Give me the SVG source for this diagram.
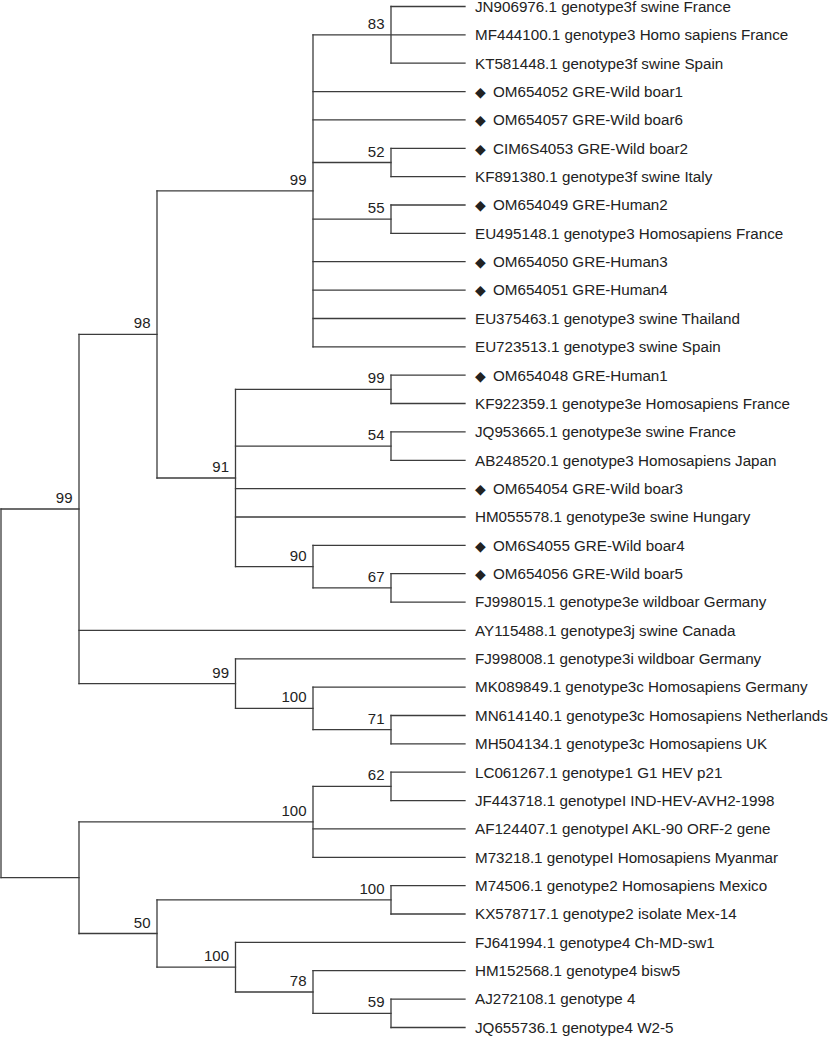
<svg xmlns="http://www.w3.org/2000/svg" width="830" height="1037" viewBox="0 0 830 1037">
<style>
.e{fill:none;stroke:#3c3c3c;stroke-width:1.3;stroke-linecap:square}
.lf{font-family:"Liberation Sans",Arial,sans-serif;font-size:15.2px;fill:#222}
.bs{font-family:"Liberation Sans",Arial,sans-serif;font-size:15px;fill:#222;text-anchor:end}
.dm{font-family:"DejaVu Sans",sans-serif;font-size:14px}
</style>
<rect width="830" height="1037" fill="#fff"/>
<g id="connectors" class="e">
<path d="M391 6.5V63.2M391 148.3V176.7M391 205V233.4M313 34.9V346.8M391 375.2V403.5M391 431.9V460.3M391 573.7V602.1M313 545.3V587.9M235.5 389.4V566.6M157 190.9V478M391 715.5V743.9M313 687.1V729.7M235.5 658.8V708.4M79 334.4V683.6M391 772.2V800.6M313 786.4V857.3M391 885.7V914M391 999.1V1027.5M313 970.7V1013.3M235.5 942.4V992M157 899.8V967.2M79 821.9V933.5M1 509V877.7"/>
<path d="M391 6.5H465M391 34.9H465M391 63.2H465M313 34.9H391M313 91.6H465M313 119.9H465M313 162.5H391M391 148.3H465M391 176.7H465M313 219.2H391M391 205H465M391 233.4H465M313 261.7H465M313 290.1H465M313 318.5H465M313 346.8H465M157 190.9H313"/>
<path d="M235.5 389.4H391M391 375.2H465M391 403.5H465M235.5 446.1H391M391 431.9H465M391 460.3H465M235.5 488.6H465M235.5 517H465M235.5 566.6H313M313 545.3H465M313 587.9H391M391 573.7H465M391 602.1H465M157 478H235.5M79 334.4H157"/>
<path d="M79 630.4H465M79 683.6H235.5M235.5 658.8H465M235.5 708.4H313M313 687.1H465M313 729.7H391M391 715.5H465M391 743.9H465M1 509H79"/>
<path d="M79 821.9H313M313 786.4H391M391 772.2H465M391 800.6H465M313 828.9H465M313 857.3H465M1 877.7H79M79 933.5H157M157 899.8H391M391 885.7H465M391 914H465M157 967.2H235.5M235.5 942.4H465M235.5 992H313M313 970.7H465M313 1013.3H391M391 999.1H465M391 1027.5H465"/>
</g>
<g id="leaves" class="lf">
<g id="leaf1"><text x="475" y="11.8">JN906976.1 genotype3f swine France</text></g>
<g id="leaf2"><text x="475" y="40.2">MF444100.1 genotype3 Homo sapiens France</text></g>
<g id="leaf3"><text x="475" y="68.5">KT581448.1 genotype3f swine Spain</text></g>
<g id="leaf4"><text x="475" y="96.9"><tspan class="dm">◆ </tspan><tspan x="493">OM654052 GRE-Wild boar1</tspan></text></g>
<g id="leaf5"><text x="475" y="125.2"><tspan class="dm">◆ </tspan><tspan x="493">OM654057 GRE-Wild boar6</tspan></text></g>
<g id="leaf6"><text x="475" y="153.6"><tspan class="dm">◆ </tspan><tspan x="493">CIM6S4053 GRE-Wild boar2</tspan></text></g>
<g id="leaf7"><text x="475" y="182">KF891380.1 genotype3f swine Italy</text></g>
<g id="leaf8"><text x="475" y="210.3"><tspan class="dm">◆ </tspan><tspan x="493">OM654049 GRE-Human2</tspan></text></g>
<g id="leaf9"><text x="475" y="238.7">EU495148.1 genotype3 Homosapiens France</text></g>
<g id="leaf10"><text x="475" y="267"><tspan class="dm">◆ </tspan><tspan x="493">OM654050 GRE-Human3</tspan></text></g>
<g id="leaf11"><text x="475" y="295.4"><tspan class="dm">◆ </tspan><tspan x="493">OM654051 GRE-Human4</tspan></text></g>
<g id="leaf12"><text x="475" y="323.8">EU375463.1 genotype3 swine Thailand</text></g>
<g id="leaf13"><text x="475" y="352.1">EU723513.1 genotype3 swine Spain</text></g>
<g id="leaf14"><text x="475" y="380.5"><tspan class="dm">◆ </tspan><tspan x="493">OM654048 GRE-Human1</tspan></text></g>
<g id="leaf15"><text x="475" y="408.8">KF922359.1 genotype3e Homosapiens France</text></g>
<g id="leaf16"><text x="475" y="437.2">JQ953665.1 genotype3e swine France</text></g>
<g id="leaf17"><text x="475" y="465.6">AB248520.1 genotype3 Homosapiens Japan</text></g>
<g id="leaf18"><text x="475" y="493.9"><tspan class="dm">◆ </tspan><tspan x="493">OM654054 GRE-Wild boar3</tspan></text></g>
<g id="leaf19"><text x="475" y="522.3">HM055578.1 genotype3e swine Hungary</text></g>
<g id="leaf20"><text x="475" y="550.6"><tspan class="dm">◆ </tspan><tspan x="493">OM6S4055 GRE-Wild boar4</tspan></text></g>
<g id="leaf21"><text x="475" y="579"><tspan class="dm">◆ </tspan><tspan x="493">OM654056 GRE-Wild boar5</tspan></text></g>
<g id="leaf22"><text x="475" y="607.4">FJ998015.1 genotype3e wildboar Germany</text></g>
<g id="leaf23"><text x="475" y="635.7">AY115488.1 genotype3j swine Canada</text></g>
<g id="leaf24"><text x="475" y="664.1">FJ998008.1 genotype3i wildboar Germany</text></g>
<g id="leaf25"><text x="475" y="692.4">MK089849.1 genotype3c Homosapiens Germany</text></g>
<g id="leaf26"><text x="475" y="720.8">MN614140.1 genotype3c Homosapiens Netherlands</text></g>
<g id="leaf27"><text x="475" y="749.2">MH504134.1 genotype3c Homosapiens UK</text></g>
<g id="leaf28"><text x="475" y="777.5">LC061267.1 genotype1 G1 HEV p21</text></g>
<g id="leaf29"><text x="475" y="805.9">JF443718.1 genotypeI IND-HEV-AVH2-1998</text></g>
<g id="leaf30"><text x="475" y="834.2">AF124407.1 genotypeI AKL-90 ORF-2 gene</text></g>
<g id="leaf31"><text x="475" y="862.6">M73218.1 genotypeI Homosapiens Myanmar</text></g>
<g id="leaf32"><text x="475" y="891">M74506.1 genotype2 Homosapiens Mexico</text></g>
<g id="leaf33"><text x="475" y="919.3">KX578717.1 genotype2 isolate Mex-14</text></g>
<g id="leaf34"><text x="475" y="947.7">FJ641994.1 genotype4 Ch-MD-sw1</text></g>
<g id="leaf35"><text x="475" y="976">HM152568.1 genotype4 bisw5</text></g>
<g id="leaf36"><text x="475" y="1004.4">AJ272108.1 genotype 4</text></g>
<g id="leaf37"><text x="475" y="1032.8">JQ655736.1 genotype4 W2-5</text></g>
</g>
<g id="internal" class="bs">
<g id="n83"><text x="384.5" y="28.9">83</text></g>
<g id="n52"><text x="384.5" y="156.5">52</text></g>
<g id="n99a"><text x="306.5" y="184.9">99</text></g>
<g id="n55"><text x="384.5" y="213.2">55</text></g>
<g id="n98"><text x="150.5" y="328.4">98</text></g>
<g id="n99b"><text x="384.5" y="383.4">99</text></g>
<g id="n54"><text x="384.5" y="440.1">54</text></g>
<g id="n91"><text x="229" y="472">91</text></g>
<g id="n90"><text x="306.5" y="560.6">90</text></g>
<g id="n67"><text x="384.5" y="581.9">67</text></g>
<g id="n99top"><text x="72.5" y="503">99</text></g>
<g id="n99c"><text x="229" y="677.6">99</text></g>
<g id="n100a"><text x="306.5" y="702.4">100</text></g>
<g id="n71"><text x="384.5" y="723.7">71</text></g>
<g id="n62"><text x="384.5" y="780.4">62</text></g>
<g id="n100b"><text x="306.5" y="815.9">100</text></g>
<g id="n100c"><text x="384.5" y="893.8">100</text></g>
<g id="n50"><text x="150.5" y="927.5">50</text></g>
<g id="n100d"><text x="229" y="961.2">100</text></g>
<g id="n78"><text x="306.5" y="986">78</text></g>
<g id="n59"><text x="384.5" y="1007.3">59</text></g>
</g>
</svg>
